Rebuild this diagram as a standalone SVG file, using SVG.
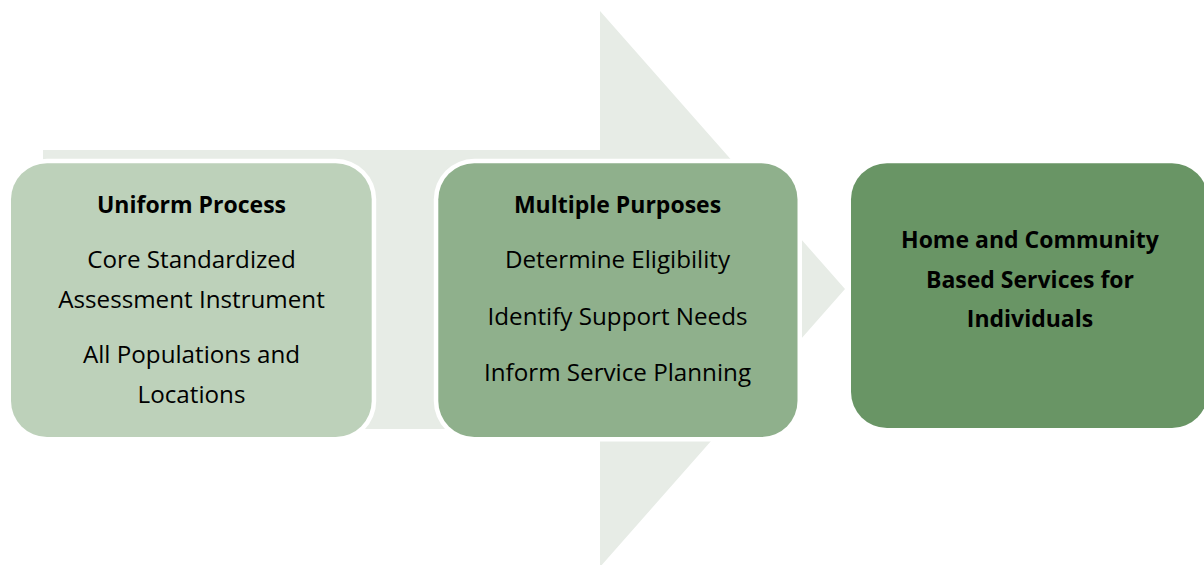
<svg xmlns="http://www.w3.org/2000/svg" width="1204" height="565" viewBox="0 0 1204 565">
  <style>
    .t { font-family: "Open Sans", "Liberation Sans", sans-serif; font-size: 24.2px; fill: #000; text-anchor: middle; }
    .b { font-weight: bold; font-size: 23px; }
    .halo { fill: #ffffff; }
  </style>
  <rect width="1204" height="565" fill="#ffffff"/>
  <g id="connectors">
    <path id="big-arrow" d="M43,150 H600 V11 L845,289 L600,567 V429 H43 Z" fill="#e7ece6"/>
  </g>
  <g id="node-uniform">
    <rect class="halo" x="6.5" y="158.8" width="369.7" height="282.7" rx="40.5"/>
    <rect x="11" y="163.3" width="360.7" height="273.7" rx="36" fill="#bdd1ba"/>
    <text class="t b" x="191.5" y="213">Uniform Process</text>
    <text class="t" x="191.5" y="268">Core Standardized</text>
    <text class="t" x="191.5" y="308">Assessment Instrument</text>
    <text class="t" x="191.5" y="363">All Populations and</text>
    <text class="t" x="191.5" y="403">Locations</text>
  </g>
  <g id="node-purposes">
    <rect class="halo" x="433.8" y="158.8" width="368.2" height="282.7" rx="40.5"/>
    <rect x="438.3" y="163.3" width="359.2" height="273.7" rx="36" fill="#8fb08c"/>
    <text class="t b" x="617.5" y="213">Multiple Purposes</text>
    <text class="t" x="617.5" y="268">Determine Eligibility</text>
    <text class="t" x="617.5" y="325">Identify Support Needs</text>
    <text class="t" x="617.5" y="381">Inform Service Planning</text>
  </g>
  <g id="node-hcbs">
    <rect class="halo" x="846.5" y="158.8" width="366" height="273.7" rx="40.5"/>
    <rect x="851" y="163.3" width="357" height="264.7" rx="36" fill="#699565"/>
    <text class="t b" x="1030" y="248">Home and Community</text>
    <text class="t b" x="1030" y="288">Based Services for</text>
    <text class="t b" x="1030" y="327">Individuals</text>
  </g>
</svg>
